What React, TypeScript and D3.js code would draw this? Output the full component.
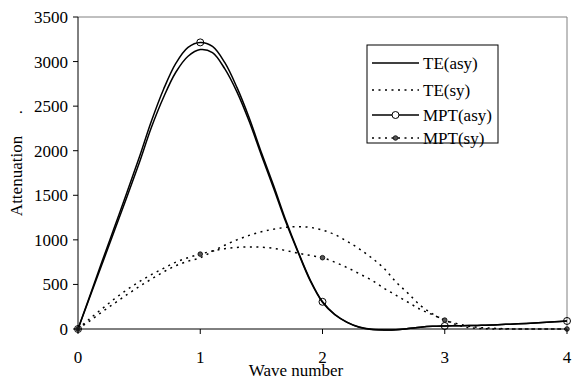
import React from "react";
import * as d3 from "d3";

const waveNumbers = d3.range(0, 41).map((i) => i / 10);

const teAsy = [
  0, 370, 740, 1110, 1480, 1860, 2260, 2600, 2880, 3060, 3135,
  3100, 2920, 2660, 2330, 1950, 1580, 1200, 860, 540, 300,
  160, 75, 20, -5, -10, -8, 5, 20, 30, 34,
  36, 38, 42, 46, 52, 58, 65, 72, 80, 90,
];
const mptAsy = [
  0, 385, 770, 1150, 1530, 1920, 2330, 2690, 2980, 3160, 3215,
  3170, 2990, 2710, 2370, 1980, 1610, 1220, 870, 550, 305,
  165, 78, 22, -4, -10, -8, 5, 20, 30, 34,
  36, 38, 42, 46, 52, 58, 65, 72, 80, 90,
];
const teSy = [
  0, 95, 195, 290, 385, 475, 560, 640, 710, 760, 800,
  870, 940, 1000, 1050, 1090, 1120, 1140, 1148, 1140, 1110,
  1060, 985, 900, 800, 685, 530, 400, 265, 170, 100,
  60, 30, 15, 8, 3, 0, 0, 0, 0, 0,
];
const mptSy = [
  0, 120, 230, 340, 440, 530, 610, 680, 750, 800, 840,
  875, 900, 915, 920, 918, 905, 880, 850, 825, 800,
  750, 690, 620, 550, 460, 380, 300, 220, 160, 100,
  45, 15, 5, 0, 0, 0, 0, 0, 0, 0,
];
const markerX = [0, 1, 2, 3, 4];

const yTicks = [0, 500, 1000, 1500, 2000, 2500, 3000, 3500];
const xTicks = [0, 1, 2, 3, 4];
const legendLabels = ["TE(asy)", "TE(sy)", "MPT(asy)", "MPT(sy)"];

const W = 573;
const H = 382;
const L = 78;
const R = 567;
const T = 17;
const B = 329;
const FONT = '"Liberation Serif", "Times New Roman", serif';

export default function App() {
  const x = d3.scaleLinear().domain([0, 4]).range([L, R]);
  const y = d3.scaleLinear().domain([0, 3500]).range([B, T]);
  const line = (vals: number[]) =>
    d3
      .line<number>()
      .x((_, i) => x(waveNumbers[i]))
      .y((v) => y(v))
      .curve(d3.curveCatmullRom.alpha(0.5))(vals) || "";
  const at = (vals: number[], xv: number) => vals[Math.round(xv * 10)];

  const dash = "2,4.5";
  const legY = [63, 90, 115, 138];
  const lx0 = 372;
  const lx1 = 419;
  const ts = { fontFamily: FONT, fontSize: 17 } as React.CSSProperties;

  return (
    <svg
      width={W}
      height={H}
      style={{ position: "absolute", left: 0, top: 0, background: "#fff", fontFamily: FONT }}
    >
      <rect x={0} y={0} width={W} height={H} fill="#fff" />
      {/* frame */}
      <line x1={L} x2={R} y1={T} y2={T} stroke="#808080" strokeWidth={1} />
      <line x1={R} x2={R} y1={T} y2={B} stroke="#808080" strokeWidth={1} />

      {/* curves */}
      <path d={line(teSy)} fill="none" stroke="#000" strokeWidth={1.5} strokeDasharray={dash} />
      <path d={line(mptSy)} fill="none" stroke="#000" strokeWidth={1.5} strokeDasharray={dash} />
      <path d={line(teAsy)} fill="none" stroke="#000" strokeWidth={1.5} />
      <path d={line(mptAsy)} fill="none" stroke="#000" strokeWidth={1.5} />

      {/* markers */}
      {markerX.map((m) => (
        <circle key={"ma" + m} cx={x(m)} cy={y(at(mptAsy, m))} r={3.5} fill="none" stroke="#000" strokeWidth={1} />
      ))}
      {markerX.map((m) => (
        <circle key={"ms" + m} cx={x(m)} cy={y(at(mptSy, m))} r={2.3} fill="#555" stroke="#000" strokeWidth={0.8} />
      ))}

      {/* axes */}
      <line x1={L} x2={L} y1={T} y2={B} stroke="#000" strokeWidth={1} />
      <line x1={L} x2={R} y1={B} y2={B} stroke="#000" strokeWidth={1} />
      {yTicks.map((t) => (
        <g key={"y" + t}>
          <line x1={L - 5} x2={L} y1={y(t)} y2={y(t)} stroke="#000" />
          <text x={L - 10} y={y(t)} dy="0.35em" textAnchor="end" style={ts}>
            {t}
          </text>
        </g>
      ))}
      {xTicks.map((t) => (
        <g key={"x" + t}>
          <line x1={x(t)} x2={x(t)} y1={B} y2={B + 5} stroke="#000" />
          <text x={x(t)} y={363} textAnchor="middle" style={ts}>
            {t}
          </text>
        </g>
      ))}
      <text x={296} y={376} textAnchor="middle" style={ts}>
        Wave number
      </text>
      <text transform="translate(22,176) rotate(-90)" textAnchor="middle" style={ts}>
        Attenuation
      </text>
      <text transform="translate(22,112) rotate(-90)" textAnchor="middle" style={ts}>
        .
      </text>

      {/* legend */}
      <rect x={367} y={45} width={131} height={98} fill="#fff" stroke="#000" strokeWidth={1} />
      {legendLabels.map((lab, i) => (
        <g key={lab}>
          <line
            x1={lx0}
            x2={lx1}
            y1={legY[i]}
            y2={legY[i]}
            stroke="#000"
            strokeWidth={1.5}
            strokeDasharray={i % 2 === 1 ? dash : undefined}
          />
          {i === 2 && <circle cx={(lx0 + lx1) / 2} cy={legY[i]} r={3.5} fill="#fff" stroke="#000" />}
          {i === 3 && <circle cx={(lx0 + lx1) / 2} cy={legY[i]} r={2.3} fill="#555" stroke="#000" strokeWidth={0.8} />}
          <text x={423} y={legY[i]} dy="0.35em" style={ts}>
            {lab}
          </text>
        </g>
      ))}
    </svg>
  );
}
